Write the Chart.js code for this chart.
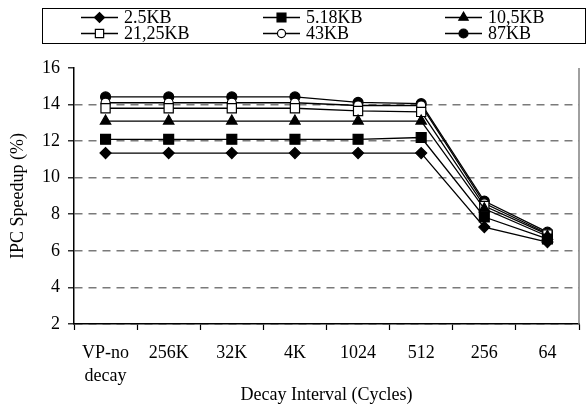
<!DOCTYPE html>
<html>
<head>
<meta charset="utf-8">
<script src="https://cdn.jsdelivr.net/npm/chart.js@4/dist/chart.umd.min.js"></script>
<style>
  html, body { margin: 0; padding: 0; background: #fff; }
  #wrap { width: 588px; height: 413px; }
</style>
</head>
<body>
<div id="wrap"><canvas id="ipcChart" width="588" height="413"></canvas></div>
<script>
// dados
const intervals = [['VP-no', 'decay'], '256K', '32K', '4K', '1024', '512', '256', '64'];
const yTicks = [2, 4, 6, 8, 10, 12, 14, 16];

const kb2_5   = [11.35, 11.35, 11.35, 11.35, 11.35, 11.35, 7.3, 6.48];
const kb5_18  = [12.1, 12.1, 12.1, 12.1, 12.1, 12.2, 7.85, 6.65];
const kb10_5  = [13.1, 13.1, 13.1, 13.1, 13.1, 13.1, 8.3, 6.8];
const kb21_25 = [13.8, 13.8, 13.8, 13.8, 13.65, 13.6, 8.45, 6.9];
const kb43    = [14.1, 14.1, 14.1, 14.1, 13.95, 13.95, 8.6, 6.95];
const kb87    = [14.42, 14.42, 14.42, 14.42, 14.12, 14.05, 8.72, 7.02];

const seriesNames = ['2.5KB', '5.18KB', '10,5KB', '21,25KB', '43KB', '87KB'];
const seriesValues = [kb2_5, kb5_18, kb10_5, kb21_25, kb43, kb87];
const seriesMarkers = [
    { style: 'rectRot', radius: 5.5, fill: '#000' },
    { style: 'rect', radius: 7, fill: '#000' },
    { style: 'triangle', radius: 6, fill: '#000' },
    { style: 'rect', radius: 6.5, fill: '#fff' },
    { style: 'circle', radius: 4.5, fill: '#fff' },
    { style: 'circle', radius: 5, fill: '#000' }
];

const FONT = '"Liberation Serif", "Times New Roman", serif';

const datasets = seriesNames.map((name, i) => ({
    label: name,
    data: seriesValues[i],
    borderColor: '#000',
    borderWidth: 1.3,
    backgroundColor: seriesMarkers[i].fill,
    pointStyle: seriesMarkers[i].style,
    pointRadius: seriesMarkers[i].radius,
    pointBorderColor: '#000',
    pointBorderWidth: 1.2,
    pointBackgroundColor: seriesMarkers[i].fill,
    tension: 0
}));

// legenda em caixa, desenhada no canvas
const boxLegend = {
    id: 'boxLegend',
    afterDraw(chart) {
        const ctx = chart.ctx;
        const box = { x: 42, y: 8, w: 543, h: 35 };
        ctx.save();
        ctx.strokeStyle = '#000';
        ctx.lineWidth = 1;
        ctx.strokeRect(box.x + 0.5, box.y + 0.5, box.w, box.h);
        ctx.font = '18px ' + FONT;
        ctx.fillStyle = '#000';
        ctx.textBaseline = 'middle';
        seriesNames.forEach((name, i) => {
            const col = i % 3;
            const row = Math.floor(i / 3);
            const x0 = 81 + col * 182;
            const y = 17.5 + row * 16;
            ctx.beginPath();
            ctx.moveTo(x0, y);
            ctx.lineTo(x0 + 37, y);
            ctx.lineWidth = 1.3;
            ctx.strokeStyle = '#000';
            ctx.stroke();
            const m = seriesMarkers[i];
            ctx.fillStyle = m.fill;
            ctx.strokeStyle = '#000';
            ctx.lineWidth = 1.2;
            Chart.helpers.drawPoint(ctx, {
                pointStyle: m.style,
                radius: m.radius * 0.9,
                rotation: 0,
                borderWidth: 1.2
            }, x0 + 18.5, y);
            ctx.fillStyle = '#000';
            ctx.fillText(name, x0 + 43, y + 1);
        });
        ctx.restore();
    }
};

// borda direita cinza da área do gráfico
const rightBorder = {
    id: 'rightBorder',
    beforeDatasetsDraw(chart) {
        const { ctx, chartArea } = chart;
        ctx.save();
        ctx.strokeStyle = '#808080';
        ctx.lineWidth = 1.5;
        ctx.beginPath();
        ctx.moveTo(chartArea.right, chartArea.top);
        ctx.lineTo(chartArea.right, chartArea.bottom);
        ctx.stroke();
        ctx.restore();
    }
};

const ctx = document.getElementById('ipcChart').getContext('2d');
new Chart(ctx, {
    type: 'line',
    data: { labels: intervals, datasets: datasets },
    plugins: [boxLegend, rightBorder],
    options: {
        responsive: false,
        animation: false,
        devicePixelRatio: 1,
        layout: { padding: { top: 68, right: 9, left: 0, bottom: 0 } },
        plugins: {
            legend: { display: false },
            tooltip: { enabled: false }
        },
        scales: {
            x: {
                offset: true,
                grid: {
                    offset: true,
                    drawOnChartArea: false,
                    drawTicks: true,
                    tickLength: 6,
                    tickColor: '#000',
                    tickWidth: 1.2
                },
                border: { color: '#000', width: 1.5 },
                ticks: {
                    color: '#000',
                    padding: 12,
                    maxRotation: 0,
                    autoSkip: false,
                    font: { family: FONT, size: 18, lineHeight: '23px' }
                },
                title: {
                    display: true,
                    text: 'Decay Interval (Cycles)',
                    color: '#000',
                    padding: { top: 0, bottom: 7 },
                    font: { family: FONT, size: 18 }
                },
                afterFit(scale) { scale.height = 89; }
            },
            y: {
                min: 2,
                max: 16,
                afterBuildTicks(scale) { scale.ticks = yTicks.map(v => ({ value: v })); },
                grid: {
                    color: (c) => (c.tick && c.tick.value === 16) ? 'rgba(0,0,0,0)' : '#7a7a7a',
                    lineWidth: 1.6,
                    drawTicks: true,
                    tickLength: 6,
                    tickColor: '#000',
                    tickWidth: 1.2,
                    tickBorderDash: []
                },
                border: { color: '#000', width: 1.5, dash: [8, 6] },
                ticks: {
                    color: '#000',
                    padding: 8,
                    font: { family: FONT, size: 18 }
                },
                title: {
                    display: true,
                    text: 'IPC Speedup (%)',
                    color: '#000',
                    padding: { top: 7, bottom: 0 },
                    font: { family: FONT, size: 18 }
                },
                afterFit(scale) { scale.width = 74; }
            }
        }
    }
});
</script>
</body>
</html>
